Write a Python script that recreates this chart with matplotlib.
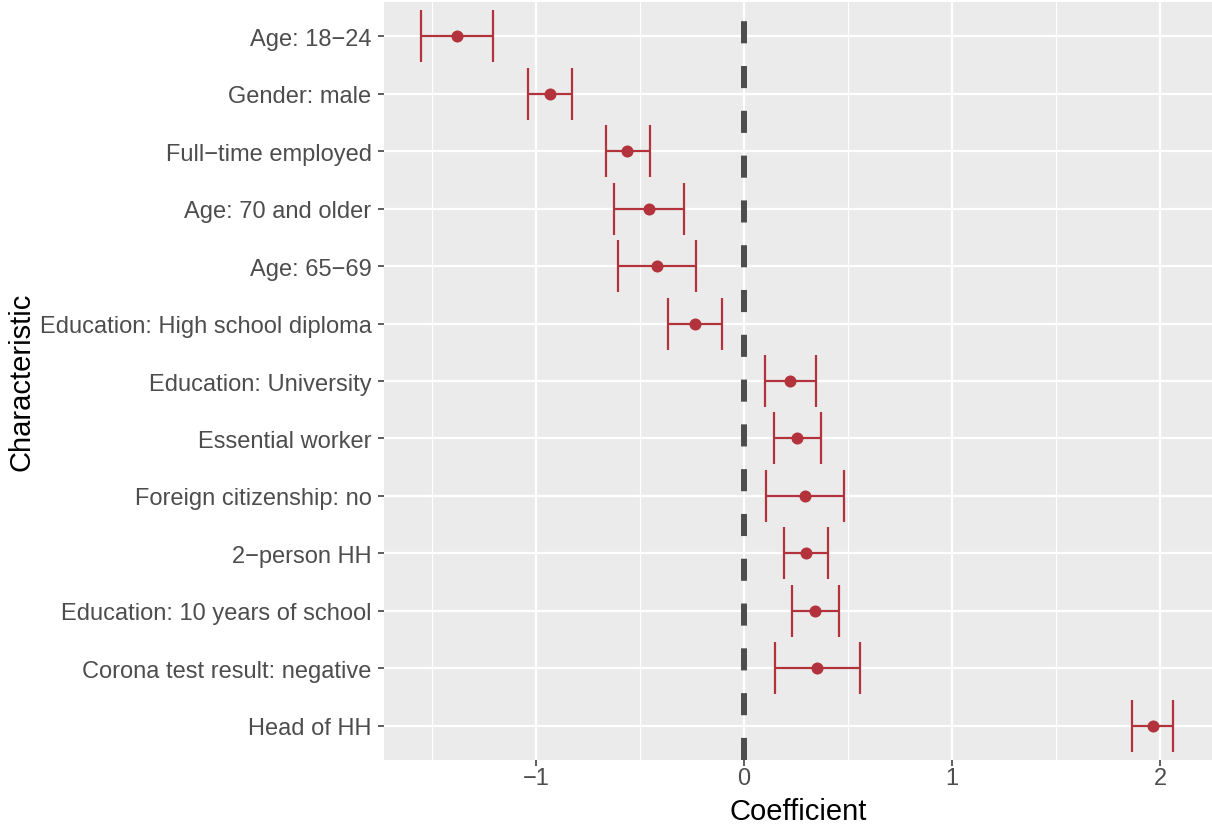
import matplotlib
matplotlib.use('Agg')
import matplotlib.pyplot as plt
import numpy as np

# data (top to bottom)
labels = [
    "Age: 18\u221224",
    "Gender: male",
    "Full\u2212time employed",
    "Age: 70 and older",
    "Age: 65\u221269",
    "Education: High school diploma",
    "Education: University",
    "Essential worker",
    "Foreign citizenship: no",
    "2\u2212person HH",
    "Education: 10 years of school",
    "Corona test result: negative",
    "Head of HH",
]
coef = [-1.38, -0.933, -0.563, -0.457, -0.418, -0.236, 0.221, 0.255, 0.293, 0.298, 0.341, 0.351, 1.966]
lower = [-1.553, -1.038, -0.663, -0.625, -0.606, -0.365, 0.101, 0.144, 0.106, 0.192, 0.231, 0.149, 1.865]
upper = [-1.207, -0.827, -0.452, -0.288, -0.231, -0.106, 0.346, 0.370, 0.481, 0.404, 0.457, 0.558, 2.063]

plt.rcParams['font.family'] = ['Liberation Sans', 'DejaVu Sans']

fig = plt.figure(figsize=(12.12, 8.29), dpi=100)
ax = fig.add_axes([384 / 1212, 1 - 761 / 829, (1212 - 384) / 1212, 758 / 829])

red = "#B2333B"
n = len(labels)
y = np.arange(n)[::-1] + 1

ax.set_facecolor("#EBEBEB")
ax.set_xlim(-1.731, 2.25)
ax.set_ylim(0.4, n + 0.6)

# grid
for v in [-1.5, -0.5, 0.5, 1.5]:
    ax.axvline(v, color="white", lw=0.8, zorder=0)
for v in [-1, 0, 1, 2]:
    ax.axvline(v, color="white", lw=1.6, zorder=0)
for v in y:
    ax.axhline(v, color="white", lw=1.6, zorder=0)

ax.axvline(0, color="#4D4D4D", lw=4.3, ls=(0, (3.7, 3.8)), zorder=1)

c = np.array(coef)
ax.errorbar(c, y, xerr=[c - np.array(lower), np.array(upper) - c], fmt='none',
            ecolor=red, elinewidth=1.6, capsize=18.5, capthick=1.6, zorder=2)
ax.scatter(c, y, s=75, color=red, zorder=3, linewidths=0)

ax.set_yticks(y)
ax.set_yticklabels(labels, fontsize=17, color="#4D4D4D")
ax.set_xticks([-1, 0, 1, 2])
ax.set_xticklabels(["\u22121", "0", "1", "2"], fontsize=17, color="#4D4D4D")
ax.tick_params(axis='both', length=4, width=1.1, color="#333333")
ax.tick_params(axis='x', pad=1)
ax.tick_params(axis='y', pad=5)

for s in ax.spines.values():
    s.set_visible(False)

ax.set_xlabel("Coefficient", fontsize=21, labelpad=6)
ax.set_ylabel("Characteristic", fontsize=21, labelpad=3)

fig.savefig("out.png", dpi=100)
